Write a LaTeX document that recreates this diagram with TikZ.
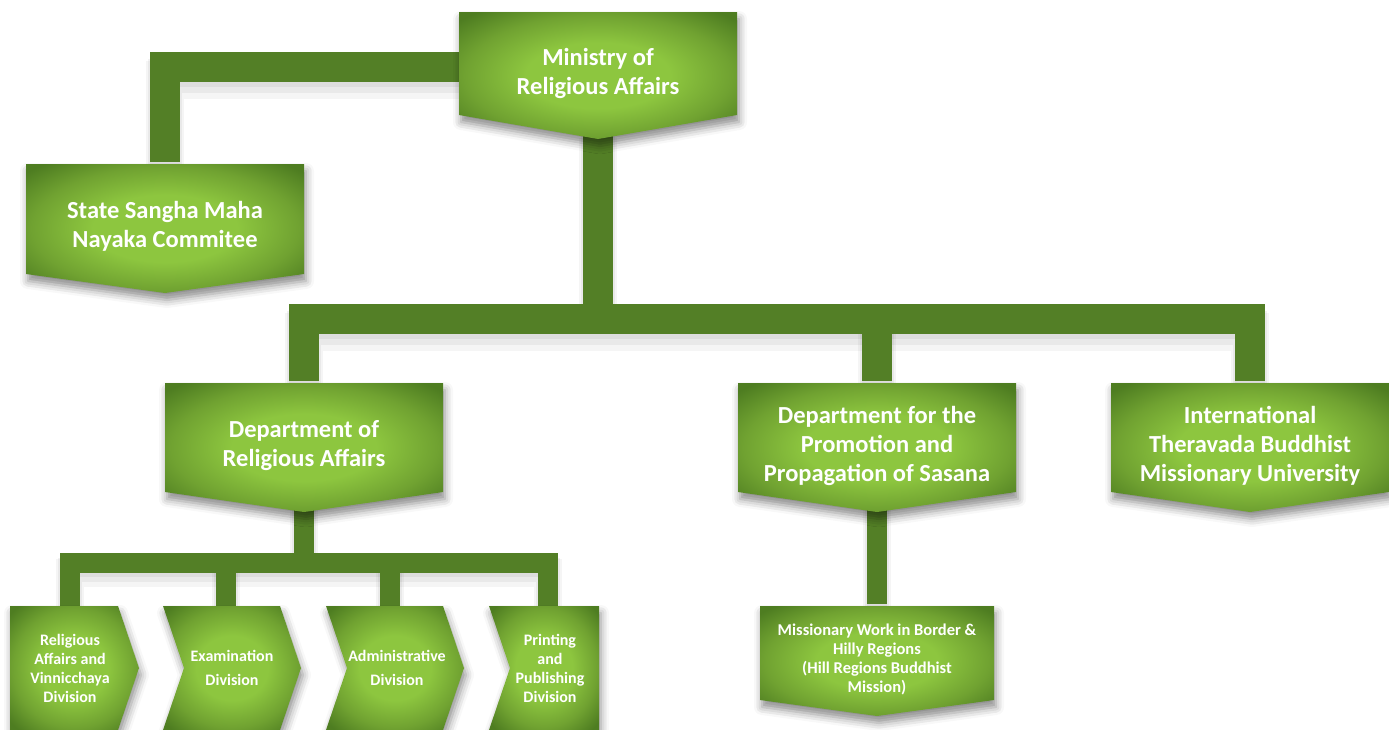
\documentclass[tikz,border=0pt]{standalone}
\usepackage{fontspec}
\setmainfont{Carlito}
\usetikzlibrary{shadows.blur}
\definecolor{gLight}{HTML}{8DC63F}
\definecolor{gMid}{HTML}{70A231}
\definecolor{gDark}{HTML}{4E7D21}
\definecolor{cGreen}{HTML}{537F26}
\pgfdeclareradialshading{boxshade}{\pgfpoint{0bp}{0bp}}{color(0bp)=(gLight); color(13bp)=(gLight); color(24bp)=(gMid); color(33bp)=(gDark); color(50bp)=(gDark)}
\pgfdeclarelayer{shad}
\pgfdeclarelayer{bg}
\pgfsetlayers{shad,bg,main}
\tikzset{
  boxfill/.style={shading=boxshade},
  boxshadow/.style={blur shadow={shadow xshift=2pt, shadow yshift=-7pt, shadow blur radius=8pt, shadow opacity=45}},
  bigtext/.style={text=white, font=\bfseries\fontsize{24.5}{29}\selectfont, align=center, inner sep=0pt},
  midtext/.style={text=white, font=\bfseries\fontsize{16.5}{19}\selectfont, align=center, inner sep=0pt},
  smalltext/.style={text=white, font=\bfseries\fontsize{16}{19}\selectfont, align=center, inner sep=0pt},
  c30/.style={draw=cGreen, line width=30pt},
  c20/.style={draw=cGreen, line width=20pt},
  sha/.style={draw=black, opacity=0.05, line width=30pt, transform canvas={yshift=-5pt}},
  shb/.style={draw=black, opacity=0.05, line width=34pt, transform canvas={yshift=-9pt}},
  shc/.style={draw=black, opacity=0.04, line width=38pt, transform canvas={yshift=-13pt}},
  sha2/.style={draw=black, opacity=0.05, line width=20pt, transform canvas={yshift=-4pt}},
  shb2/.style={draw=black, opacity=0.05, line width=24pt, transform canvas={yshift=-7pt}},
  shc2/.style={draw=black, opacity=0.04, line width=28pt, transform canvas={yshift=-10pt}},
}
\newcommand\mypent[8]{%
  \path[boxshadow, boxfill] ({#2-#4/2},#3) -- ({#2+#4/2},#3) -- ({#2+#4/2},#5) -- (#2,#6) -- ({#2-#4/2},#5) -- cycle;
  \node[#8, minimum width=#4, minimum height={#6-#3}] (#1) at (#2,{(#3+#6)/2-2}) {#7};
}
\newcommand\mychev[7]{%
  \path[boxshadow, boxfill] (#2,606) -- (#4,606) -- (#5,668) -- (#4,730) -- (#2,730) -- (#3,668) -- cycle;
  \node[smalltext, minimum height=124] (#1) at (#6,668) {#7};
}
\newcommand\drawconns[2]{%
  \draw[#1] ([yshift=6.5pt]min.west) -| (ssm.north);
  \draw[#1] ([yshift=12pt]min.south) -- (h1);
  \draw[#1] (dra.north) |- (h1) -| (itb.north);
  \draw[#1] (dps.north) -- (dps.north |- h1);
  \draw[#2] ([yshift=12pt]dra.south) -- (h2);
  \draw[#2] (d1.north) |- (h2) -| ([xshift=-2pt]d4.north);
  \draw[#2] ([xshift=-6pt]d2.north) -- ([xshift=-6pt]d2.north |- h2);
  \draw[#2] ([xshift=-7pt]d3.north) -- ([xshift=-7pt]d3.north |- h2);
  \draw[#2] ([yshift=12pt]dps.south) -- (mwb.north);
}
\begin{document}
\begin{tikzpicture}[x=1pt,y=-1pt]
\useasboundingbox (0,0) rectangle (1389,729);
\mypent{min}{598}{12}{278}{115}{139}{Ministry of\\Religious Affairs}{bigtext}
\mypent{ssm}{165}{164}{278}{274}{293}{State Sangha Maha\\Nayaka Commitee}{bigtext}
\mypent{dra}{304}{383}{278}{492}{512}{Department of\\Religious Affairs}{bigtext}
\mypent{dps}{877}{383}{278}{492}{512}{Department for the\\Promotion and\\Propagation of Sasana}{bigtext}
\mypent{itb}{1250}{383}{278}{492}{512}{International\\Theravada Buddhist\\Missionary University}{bigtext}
\mypent{mwb}{877}{606}{234}{700}{716}{Missionary Work in Border \&\\Hilly Regions\\(Hill Regions Buddhist\\Mission)}{midtext}
\mychev{d1}{10}{10}{118}{139}{70}{Religious\\Affairs and\\Vinnicchaya\\Division}
\mychev{d2}{163}{184}{280}{301}{232}{Examination\\[5pt]Division}
\mychev{d3}{326}{347}{443}{464}{397}{Administrative\\[5pt]Division}
\mychev{d4}{489}{510}{599}{599}{550}{Printing\\and\\Publishing\\Division}
\coordinate (h1) at (598,319);
\coordinate (h2) at (304,563);
\begin{pgfonlayer}{shad}
\drawconns{sha}{sha2}
\drawconns{shb}{shb2}
\drawconns{shc}{shc2}
\end{pgfonlayer}
\begin{pgfonlayer}{bg}
\drawconns{c30}{c20}
\end{pgfonlayer}
\end{tikzpicture}
\end{document}
